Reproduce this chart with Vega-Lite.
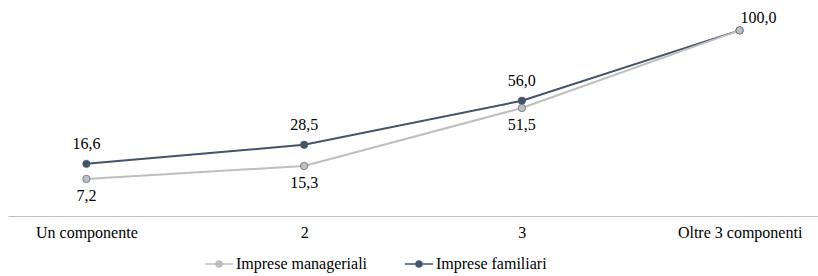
{
  "$schema": "https://vega.github.io/schema/vega-lite/v6.json",
  "width": 810,
  "height": 216,
  "autosize": {"type": "none"},
  "padding": {"left": 8, "top": 0, "right": 0, "bottom": 60},
  "background": "white",
  "config": {
    "font": "Times New Roman, Liberation Serif, DejaVu Serif, serif",
    "view": {"stroke": null},
    "locale": {"number": {"decimal": ",", "thousands": ".", "grouping": [3], "currency": ["", " €"]}}
  },
  "data": {
    "values": [
      {"cat": "Un componente", "serie": "Imprese familiari", "v": 16.6},
      {"cat": "2", "serie": "Imprese familiari", "v": 28.5},
      {"cat": "3", "serie": "Imprese familiari", "v": 56.0},
      {"cat": "Oltre 3 componenti", "serie": "Imprese familiari", "v": 100.0},
      {"cat": "Un componente", "serie": "Imprese manageriali", "v": 7.2},
      {"cat": "2", "serie": "Imprese manageriali", "v": 15.3},
      {"cat": "3", "serie": "Imprese manageriali", "v": 51.5},
      {"cat": "Oltre 3 componenti", "serie": "Imprese manageriali", "v": 100.0}
    ]
  },
  "encoding": {
    "x": {
      "field": "cat", "type": "ordinal",
      "sort": ["Un componente", "2", "3", "Oltre 3 componenti"],
      "scale": {"type": "point", "padding": 0.36},
      "axis": {"title": null, "ticks": false, "labelAngle": 0, "labelFontSize": 16, "labelColor": "#000000", "labelPadding": 8, "domainColor": "#BFBFBF", "domainWidth": 1.2, "grid": false}
    },
    "y": {
      "field": "v", "type": "quantitative",
      "scale": {"domain": [-16, 119], "nice": false, "zero": false},
      "axis": null
    },
    "color": {
      "field": "serie", "type": "nominal",
      "scale": {"domain": ["Imprese manageriali", "Imprese familiari"], "range": ["#BFBFBF", "#44546A"]},
      "legend": {
        "title": null, "orient": "none", "direction": "horizontal",
        "legendX": 196, "legendY": 249,
        "labelFontSize": 16, "labelColor": "#000000",
        "symbolType": "M-1,0L-0.22,0M0.22,0L1,0M-0.22,0A0.22,0.22 0 1,1 0.22,0A0.22,0.22 0 1,1 -0.22,0",
        "symbolSize": 784, "symbolStrokeWidth": 1.5,
        "columnPadding": 34, "labelOffset": 2
      }
    }
  },
  "layer": [
    {"mark": {"type": "line", "strokeWidth": 2}},
    {"mark": {"type": "point", "filled": true, "size": 55, "opacity": 1, "stroke": "#44546A", "strokeWidth": 0.6}},
    {
      "transform": [{"filter": "datum.serie == 'Imprese familiari' && datum.cat != 'Oltre 3 componenti'"}],
      "mark": {"type": "text", "dy": -20, "fontSize": 16},
      "encoding": {"text": {"field": "v", "type": "quantitative", "format": ".1f"}, "color": {"value": "#000000"}}
    },
    {
      "transform": [{"filter": "datum.serie == 'Imprese manageriali' && datum.cat != 'Oltre 3 componenti'"}],
      "mark": {"type": "text", "dy": 17, "fontSize": 16},
      "encoding": {"text": {"field": "v", "type": "quantitative", "format": ".1f"}, "color": {"value": "#000000"}}
    },
    {
      "transform": [{"filter": "datum.serie == 'Imprese manageriali' && datum.cat == 'Oltre 3 componenti'"}],
      "mark": {"type": "text", "align": "left", "baseline": "alphabetic", "dx": 1, "dy": -7, "fontSize": 16},
      "encoding": {"text": {"field": "v", "type": "quantitative", "format": ".1f"}, "color": {"value": "#000000"}}
    }
  ]
}
